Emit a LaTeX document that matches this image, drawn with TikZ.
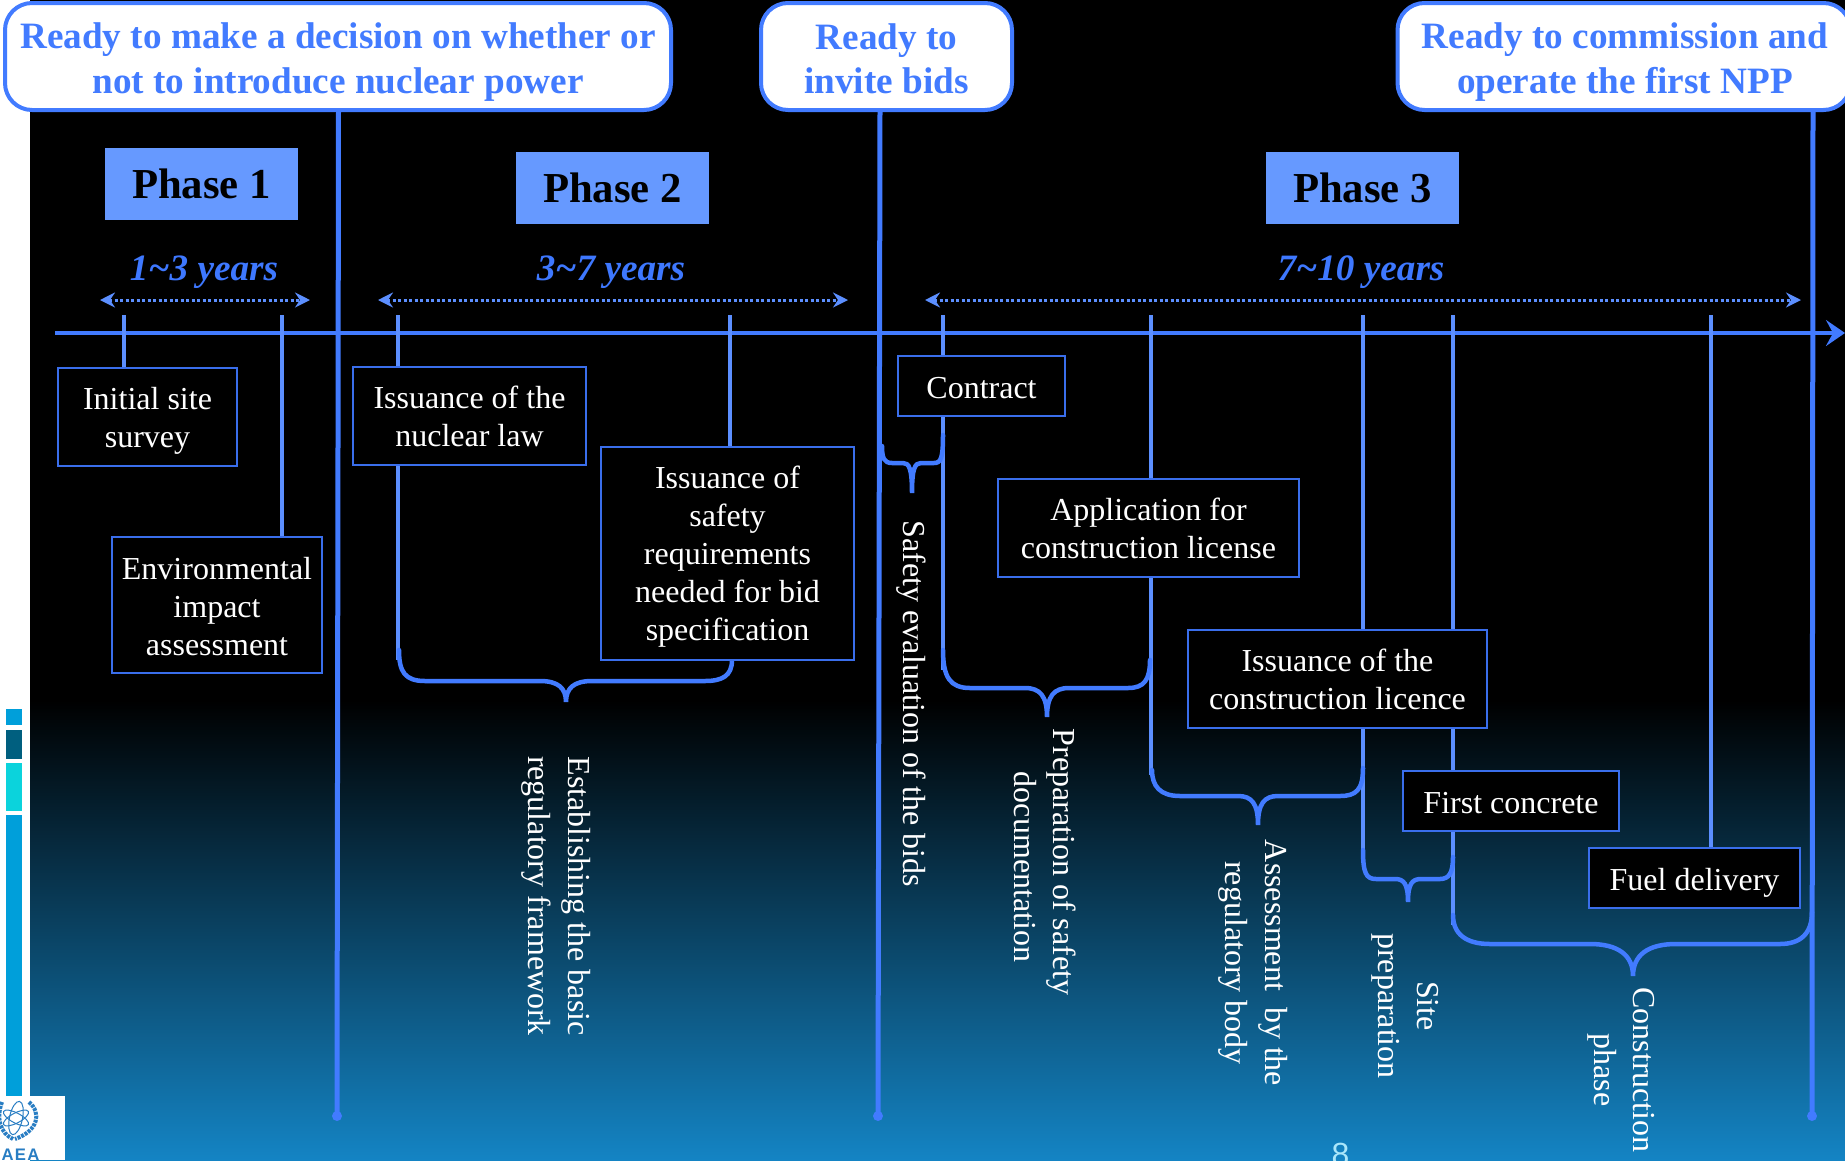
\documentclass[tikz,border=0pt]{standalone}
\usepackage{fontspec}
\setmainfont{Liberation Serif}
\setsansfont{Liberation Sans}
\usetikzlibrary{arrows.meta}

\definecolor{lineblue}{RGB}{66,123,255}
\definecolor{tickblue}{RGB}{92,143,255}
\definecolor{boxblue}{RGB}{58,110,235}
\definecolor{phaseblue}{RGB}{102,153,255}
\definecolor{yearblue}{RGB}{62,120,255}
\definecolor{sidecyan}{RGB}{0,159,218}
\definecolor{sideteal}{RGB}{0,95,127}
\definecolor{sideaqua}{RGB}{11,211,220}
\definecolor{logoblue}{RGB}{40,125,195}
\definecolor{bottomblue}{RGB}{20,132,196}
\definecolor{pagenum}{RGB}{170,230,250}

\newcommand{\pushdown}[1]{\rule{0pt}{\dimexpr 22pt+#1\relax}}

\tikzset{
    goalbox/.style={draw=lineblue,line width=4pt,rounded corners=27pt,fill=white,inner sep=0pt},
    goaltext/.style={text=lineblue,align=center,font=\fontsize{37.2}{44.5}\selectfont\bfseries,inner sep=0pt},
    phasebox/.style={fill=phaseblue,text=black,font=\fontsize{42.7}{50}\selectfont\bfseries,
        minimum width=193pt,minimum height=72pt},
    years/.style={text=yearblue,font=\fontsize{37.2}{42}\selectfont\bfseries\itshape},
    stepbox/.style={draw=boxblue,line width=2.5pt,fill=black,text=white,align=center,
        font=\fontsize{32}{38}\selectfont,inner sep=0pt},
    sidetext/.style={text=white,rotate=-90,align=center,font=\fontsize{32}{39.5}\selectfont},
    milestone/.style={draw=lineblue,line width=5pt},
    tickline/.style={draw=tickblue,line width=4pt},
    bracket/.style={draw=lineblue,line width=4.5pt,line cap=round},
    span/.style={draw=tickblue,line width=3pt,dash pattern=on 3pt off 2.5pt,
        {Stealth[length=15pt,width=15pt,inset=5pt]}-{Stealth[length=15pt,width=15pt,inset=5pt]}}
}

\begin{document}
\begin{tikzpicture}[x=1pt,y=-1pt]
    \useasboundingbox (0,0) rectangle (1845,1160);

    % background and side bars
    \fill[white] (0,0) rectangle (1845,1160);
    \fill[black] (30,0) rectangle (1845,700);
    \shade[top color=black,bottom color=bottomblue] (30,700) rectangle (1845,1160);
    \fill[sidecyan] (6,709) rectangle (22,725);
    \fill[sideteal] (6,730) rectangle (22,759);
    \fill[sideaqua] (6,763) rectangle (22,811);
    \fill[sidecyan] (6,815) rectangle (22,1096);

    % logo
    \fill[white] (0,1096) rectangle (65,1160);
    \begin{scope}[draw=logoblue,line width=1pt]
        \draw[rotate around={-12:(16,1118)}] (16,1118) ellipse (6.5pt and 17pt);
        \draw[rotate around={-62:(16,1118)}] (16,1118) ellipse (5pt and 14pt);
        \draw[rotate around={62:(16,1118)}] (16,1118) ellipse (5pt and 14pt);
        \draw[line width=4pt,dash pattern=on 3pt off 1pt] (29,1102) .. controls (42,1113) and (38,1131) .. (15,1139);
        \draw[line width=4pt,dash pattern=on 3pt off 1pt] (2,1102) .. controls (-4,1118) and (0,1133) .. (13,1139);
    \end{scope}
    \node[text=logoblue,anchor=base,font=\sffamily\bfseries\fontsize{16.7}{17}\selectfont\addfontfeature{LetterSpace=8},inner sep=0pt] (AEA) at (20.5,1160) {AEA};

    % time axis
    \coordinate (T_A) at (55,333);
    \coordinate (T_B) at (1845,333);
    \draw[lineblue,line width=4pt,-{Stealth[length=19pt,width=26pt,inset=7pt]}] (T_A) -- (T_B);

    % goals on top
    \begin{scope}[every node/.style={goalbox}]
        \node[minimum width=666pt,minimum height=107pt] (G_1) at (338,56.5) {};
        \node[minimum width=251pt,minimum height=107pt] (G_2) at (886.5,56.5) {};
        \node[minimum width=453pt,minimum height=107pt] (G_3) at (1624,56.5) {};
    \end{scope}
    \node[goaltext] (G_1t) at (338,62) {Ready to make a decision on whether or\\not to introduce nuclear power};
    \node[goaltext] (G_2t) at (886.5,59) {Ready to\\invite bids};
    \node[goaltext] (G_3t) at (1625,62) {Ready to commission and\\operate the first NPP};

    % milestone lines
    \coordinate (M_1) at (337,1116);
    \coordinate (M_2) at (878,1116);
    \coordinate (M_3) at (1812,1116);
    \begin{scope}[every edge/.style={milestone}]
        \path (338.5,110) edge (M_1);
        \path (880,110) edge (M_2);
        \path (1813,110) edge (M_3);
    \end{scope}
    \fill[lineblue] (M_1) circle (5pt);
    \fill[lineblue] (M_2) circle (5pt);
    \fill[lineblue] (M_3) circle (5pt);

    % phases
    \begin{scope}[every node/.style={phasebox}]
        \node (Ph_1) at (201.5,184) {Phase 1};
        \node (Ph_2) at (612.5,187.5) {Phase 2};
        \node (Ph_3) at (1362.5,187.5) {Phase 3};
    \end{scope}

    \node[years] (Y_1) at (204,272.5) {1\textasciitilde3 years};
    \node[years] (Y_2) at (611,272.5) {3\textasciitilde7 years};
    \node[years] (Y_3) at (1361,272.5) {7\textasciitilde10 years};

    \coordinate (S_1a) at (100,300);
    \coordinate (S_1b) at (310,300);
    \coordinate (S_2a) at (378,300);
    \coordinate (S_2b) at (848,300);
    \coordinate (S_3a) at (925,300);
    \coordinate (S_3b) at (1801,300);
    \draw[span] (S_1a) -- (S_1b);
    \draw[span] (S_2a) -- (S_2b);
    \draw[span] (S_3a) -- (S_3b);

    % tick tops on the axis
    \coordinate (P_1) at (124,315);
    \coordinate (P_2) at (282,315);
    \coordinate (P_3) at (398,315);
    \coordinate (P_4) at (730,315);
    \coordinate (P_5) at (943,315);
    \coordinate (P_6) at (1151,315);
    \coordinate (P_7) at (1363,315);
    \coordinate (P_8) at (1453,315);
    \coordinate (P_9) at (1711,315);

    % ticks run under the boxes
    \begin{scope}[every edge/.style={tickline}]
        \path (P_1) edge (124,400);
        \path (P_2) edge (282,560);
        \path (P_3) edge (398,660);
        \path (P_4) edge (730,660);
        \path (P_5) edge (943,670);
        \path (P_6) edge (1151,775);
        \path (P_7) edge (1363,860);
        \path (P_8) edge (1453,925);
        \path (P_9) edge (1711,860);
    \end{scope}

    % brackets
    \begin{scope}[every path/.style={bracket}]
        \draw (399,650) .. controls (399,672) and (405,681) .. (425,681) -- (540,681) .. controls (558,681) and (566,688) .. (566,702) .. controls (566,688) and (574,681) .. (592,681) -- (705,681) .. controls (722,681) and (732,676) .. (732,660);
        \draw (882,446) .. controls (882,458) and (884,463) .. (892,463) -- (903,463) .. controls (909,463) and (912,468) .. (912,493) .. controls (912,468) and (915,463) .. (921,463) -- (934,463) .. controls (941,463) and (943,458) .. (943,435);
        \draw (943,650) .. controls (943,677) and (950,688) .. (970,688) -- (1025,688) .. controls (1040,688) and (1047,696) .. (1047,717) .. controls (1047,696) and (1054,688) .. (1069,688) -- (1128,688) .. controls (1144,688) and (1150,680) .. (1150,660);
        \draw (1152,770) .. controls (1152,786) and (1160,796) .. (1180,796) -- (1238,796) .. controls (1252,796) and (1258,804) .. (1258,825) .. controls (1258,804) and (1264,796) .. (1278,796) -- (1340,796) .. controls (1356,796) and (1363,790) .. (1363,768);
        \draw (1363,850) .. controls (1363,873) and (1366,879) .. (1376,879) -- (1395,879) .. controls (1404,879) and (1408,884) .. (1408,902) .. controls (1408,884) and (1412,879) .. (1421,879) -- (1440,879) .. controls (1449,879) and (1453,873) .. (1453,857);
        \draw (1453,915) .. controls (1453,934) and (1466,944) .. (1490,944) -- (1590,944) .. controls (1618,944) and (1633,955) .. (1633,976) .. controls (1633,955) and (1648,944) .. (1676,944) -- (1780,944) .. controls (1800,944) and (1812,934) .. (1812,912);
    \end{scope}

    % step boxes
    \begin{scope}[every node/.style={stepbox}]
        \node[minimum width=179pt,minimum height=98pt] (B_1) at (147.5,417) {\pushdown{8pt}Initial site\\survey};
        \node[minimum width=210pt,minimum height=136pt] (B_2) at (217,605) {\pushdown{3pt}Environmental\\impact\\assessment};
        \node[minimum width=233pt,minimum height=98pt] (B_3) at (469.5,416) {Issuance of the\\nuclear law};
        \node[minimum width=253pt,minimum height=213pt] (B_4) at (727.5,553.5) {\pushdown{7pt}Issuance of\\safety\\requirements\\needed for bid\\specification};
        \node[minimum width=167pt,minimum height=60pt] (B_5) at (981.5,386) {\pushdown{3pt}Contract};
        \node[minimum width=301pt,minimum height=98pt] (B_6) at (1148.5,528) {Application for\\construction license};
        \node[minimum width=299pt,minimum height=98pt] (B_7) at (1337.5,679) {Issuance of the\\construction licence};
        \node[minimum width=216pt,minimum height=60pt] (B_8) at (1511,801) {\pushdown{3pt}First concrete};
        \node[minimum width=211pt,minimum height=60pt] (B_9) at (1694.5,878) {\pushdown{10pt}Fuel delivery};
    \end{scope}

    % side labels
    \begin{scope}[every node/.style={sidetext}]
        \node (L_1) at (556,896) {Establishing the basic\\regulatory framework};
        \node (L_2) at (911,704) {Safety evaluation of the bids};
        \node (L_3) at (1045,862) {Preparation of safety\\\hspace*{10pt}documentation};
        \node (L_4) at (1253,963) {Assessment\ \ by the\\regulatory body};
        \node (L_5) at (1405,1006) {Site\\preparation};
        \node (L_6) at (1621,1070) {Construction\\phase};
    \end{scope}

    \node[text=pagenum,font=\sffamily\fontsize{32}{32}\selectfont,inner sep=0pt] (N_8) at (1340.5,1154.5) {8};
\end{tikzpicture}
\end{document}
